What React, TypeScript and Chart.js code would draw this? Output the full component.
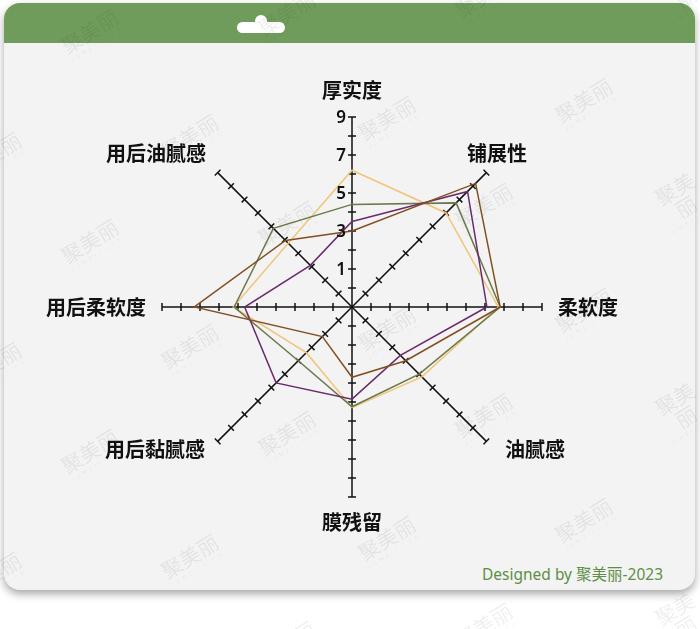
import React, { useEffect, useRef } from 'react';
import { Chart, registerables } from 'chart.js';

Chart.register(...registerables);

// ---------- data ----------
const categories = ['厚实度', '铺展性', '柔软度', '油腻感', '膜残留', '用后黏腻感', '用后柔软度', '用后油腻感'];
const seriesNames = ['样品A', '样品B', '样品C', '样品D'];
const brownValues = [3.0, 8.2, 6.8, 3.0, 2.7, 1.2, 7.3, 3.95];
const purpleValues = [3.5, 7.6, 6.1, 2.6, 3.85, 4.65, 4.65, 2.1];
const greenValues = [4.4, 6.75, 6.8, 4.0, 4.25, 3.0, 5.2, 4.85];
const yellowValues = [6.2, 6.0, 6.7, 4.2, 4.3, 2.4, 5.25, 3.75];
const tickValues = [0, 1, 2, 3, 4, 5, 6, 7, 8, 9];
const tickLabelValues = [1, 3, 5, 7, 9];
const axisMin = -1;
const axisMax = 9;

// ---------- style ----------
const seriesColors = ['#834F22', '#6A2A6C', '#6A784A', '#F0C57A'];
const labelFont = 'bold 20px "Noto Sans CJK SC", "Noto Sans", sans-serif';
const tickFont = '600 17px "Noto Sans", "Noto Sans CJK SC", sans-serif';
// label centre offsets relative to radar centre (px)
const labelOffsets: [number, number][] = [
  [0, -217], [145, -154], [236, 0], [183, 142], [0, 215], [-197, 142], [-256, 0], [-196, -154],
];

const decorPlugin = {
  id: 'radarDecor',
  beforeDatasetsDraw(chart: any) {
    const scale = chart.scales.r;
    const ctx = chart.ctx;
    ctx.save();
    ctx.strokeStyle = '#111';
    ctx.lineWidth = 1.5;
    const n = chart.data.labels.length;
    for (let i = 0; i < n; i++) {
      const ang = scale.getIndexAngle(i) - Math.PI / 2;
      const px = Math.cos(ang + Math.PI / 2);
      const py = Math.sin(ang + Math.PI / 2);
      for (const v of tickValues) {
        const p = scale.getPointPositionForValue(i, v);
        ctx.beginPath();
        ctx.moveTo(p.x - px * 4, p.y - py * 4);
        ctx.lineTo(p.x + px * 4, p.y + py * 4);
        ctx.stroke();
      }
    }
    ctx.restore();
  },
  afterDraw(chart: any) {
    const scale = chart.scales.r;
    const ctx = chart.ctx;
    ctx.save();
    ctx.fillStyle = '#111';
    ctx.font = tickFont;
    ctx.textAlign = 'right';
    ctx.textBaseline = 'middle';
    for (const v of tickLabelValues) {
      const p = scale.getPointPositionForValue(0, v);
      ctx.fillText(String(v), p.x - 6, p.y + 1);
    }
    ctx.font = labelFont;
    ctx.textAlign = 'center';
    ctx.fillStyle = '#111';
    chart.data.labels.forEach((lab: string, i: number) => {
      const [dx, dy] = labelOffsets[i];
      ctx.fillText(lab, scale.xCenter + dx, scale.yCenter + dy);
    });
    ctx.restore();
  },
};

function Watermarks() {
  const marks: JSX.Element[] = [];
  for (let r = -1; r < 7; r++) {
    for (let c = -1; c < 5; c++) {
      const x = c * 197 + (r % 2 ? 100 : 0) + 60;
      const y = r * 105 + 20 - c * 18;
      marks.push(
        <div
          key={r + '_' + c}
          style={{
            position: 'absolute',
            left: x,
            top: y,
            transform: 'rotate(-32deg)',
            color: 'rgba(0,0,0,0.08)',
            textAlign: 'center',
            fontFamily: '"Noto Sans CJK SC", sans-serif',
            lineHeight: 1,
            pointerEvents: 'none',
          }}
        >
          <div style={{ fontSize: 21 }}>聚美丽</div>
          <div style={{ fontSize: 6, letterSpacing: 3, marginTop: 2 }}>JUMEILI.CN</div>
        </div>
      );
    }
  }
  return <>{marks}</>;
}

export default function App() {
  const canvasRef = useRef<HTMLCanvasElement>(null);

  useEffect(() => {
    document.body.style.margin = '0';
    const series = [brownValues, purpleValues, greenValues, yellowValues];
    const chart = new Chart(canvasRef.current!, {
      type: 'radar',
      data: {
        labels: categories,
        datasets: series.map((vals, i) => ({
          label: seriesNames[i],
          data: vals,
          borderColor: seriesColors[i],
          backgroundColor: 'transparent',
          borderWidth: 1.5,
          pointRadius: 0,
          fill: false,
          tension: 0,
        })),
      },
      options: {
        animation: false,
        responsive: true,
        maintainAspectRatio: false,
        layout: { padding: { left: 162, right: 158, top: 117, bottom: 132 } },
        plugins: { legend: { display: false }, tooltip: { enabled: false } },
        scales: {
          r: {
            min: axisMin,
            max: axisMax,
            ticks: { display: false, stepSize: 1 },
            grid: { display: false },
            angleLines: { display: true, color: '#111', lineWidth: 1.5 },
            pointLabels: { display: false },
          },
        },
      },
      plugins: [decorPlugin],
    });
    return () => chart.destroy();
  }, []);

  return (
    <div style={{ position: 'absolute', left: 0, top: 0, width: 700, height: 629, background: '#fff', overflow: 'hidden' }}>
      <div
        style={{
          position: 'absolute',
          left: 4,
          top: 3,
          width: 691,
          height: 587,
          borderRadius: 16,
          background: '#F3F3F3',
          boxShadow: '0 4px 9px rgba(0,0,0,0.35)',
          overflow: 'hidden',
        }}
      >
        <div style={{ position: 'absolute', left: 0, top: 0, width: '100%', height: 40, background: '#709C5B' }} />
        <div style={{ position: 'absolute', left: 233, top: 19, width: 48, height: 11, borderRadius: 6, background: '#fff' }} />
        <div style={{ position: 'absolute', left: 251, top: 12, width: 12, height: 12, borderRadius: '50%', background: '#fff' }} />
      </div>
      <Watermarks />
      <div
        style={{
          position: 'absolute',
          right: 37,
          top: 562,
          fontSize: 15.5,
          color: '#5E8F46',
          fontFamily: '"Noto Sans", "Noto Sans CJK SC", sans-serif',
          whiteSpace: 'nowrap',
        }}
      >
        Designed by 聚美丽-2023
      </div>
      <div style={{ position: 'absolute', left: 0, top: 0, width: 700, height: 629 }}>
        <canvas ref={canvasRef} />
      </div>
    </div>
  );
}
